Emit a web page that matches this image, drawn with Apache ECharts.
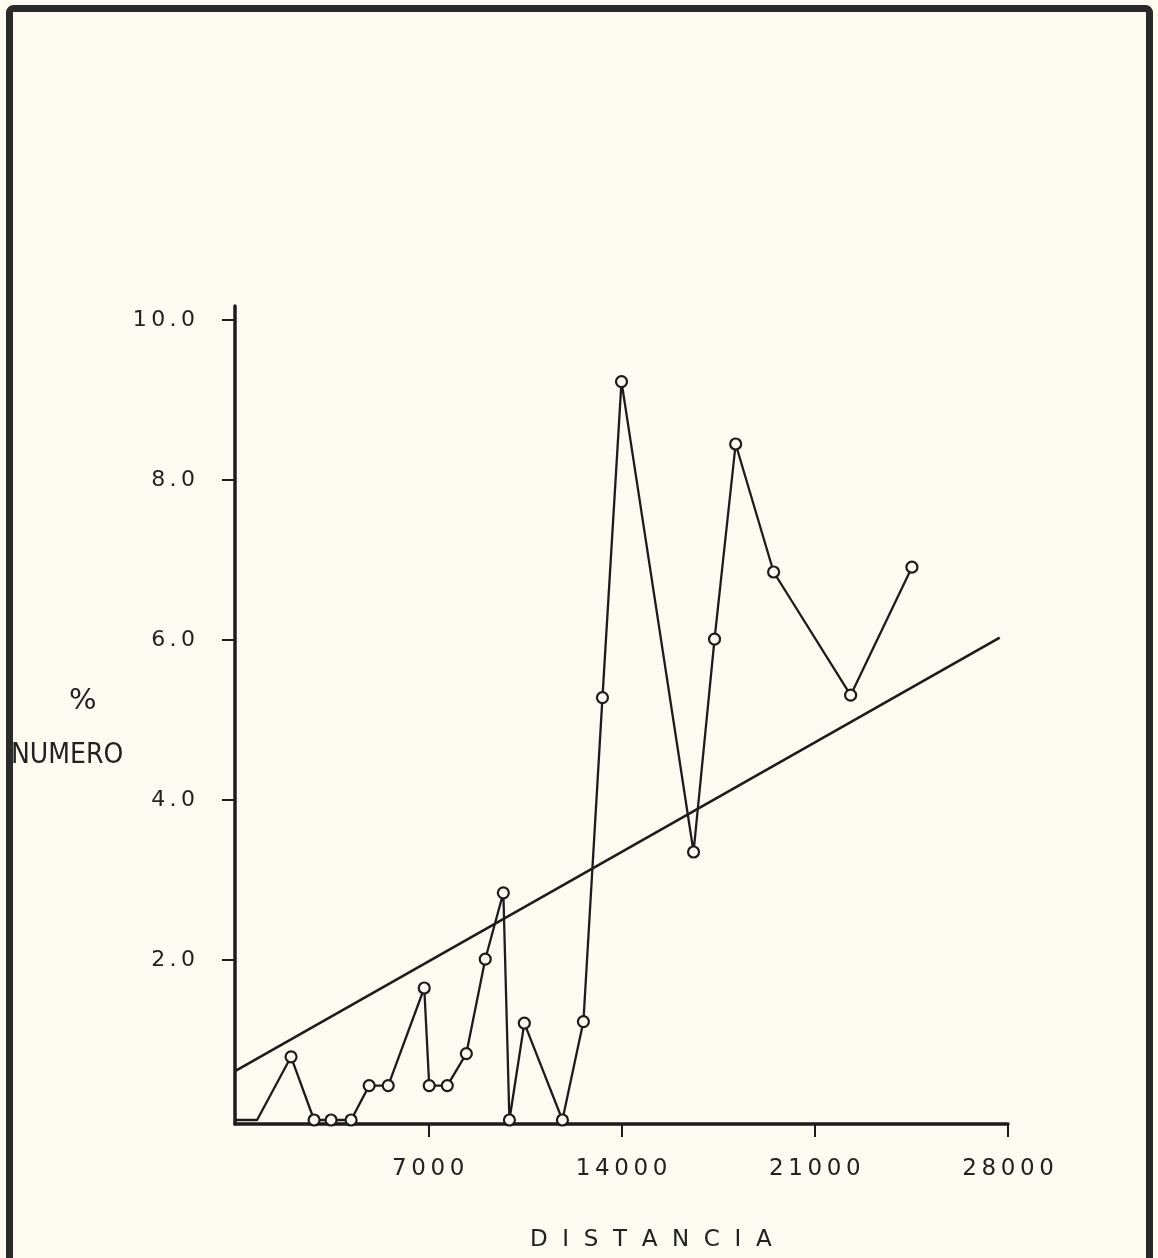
<!DOCTYPE html>
<html>
<head>
<meta charset="utf-8">
<script src="https://cdn.jsdelivr.net/npm/echarts@6/dist/echarts.min.js"></script>
<style>
html,body{margin:0;padding:0;background:#fcfaf1;}
#c{width:1158px;height:1258px;}
</style>
</head>
<body>
<div id="c"></div>
<script>
// Observed series (DISTANCIA vs % NUMERO)
var distancia = [0, 800, 2030, 2865, 3480, 4205, 4860, 5550, 6855, 7035, 7690, 8380, 9065, 9720, 9940, 10480, 11860, 12620, 13310, 14000, 16610, 17370, 18135, 19510, 22300, 24520];
var numero    = [0, 0, 0.79, 0, 0, 0, 0.43, 0.43, 1.65, 0.43, 0.43, 0.83, 2.01, 2.84, 0, 1.21, 0, 1.23, 5.28, 9.23, 3.35, 6.01, 8.45, 6.85, 5.31, 6.91];
var marked    = [false, false, true, true, true, true, true, true, true, true, true, true, true, true, true, true, true, true, true, true, true, true, true, true, true, true];
// Fitted straight line (end points)
var ajusteX = [0, 27700];
var ajusteY = [0.61, 6.03];
// Tick labels
var xTicks = [7000, 14000, 21000, 28000];
var yTicks = [2, 4, 6, 8, 10];

var ink = '#1c1c1c';
var lineData = distancia.map(function (d, i) {
  var item = { value: [d, numero[i]] };
  if (!marked[i]) item.symbol = 'none';
  return item;
});
var fitData = ajusteX.map(function (d, i) { return [d, ajusteY[i]]; });

var chart = echarts.init(document.getElementById('c'));
chart.setOption({
  backgroundColor: '#fcfaf1',
  animation: false,
  grid: { left: 235, top: 306, right: 150, bottom: 134 },
  xAxis: {
    type: 'value', min: 0, max: 28000,
    axisLine: { show: true, onZero: false, lineStyle: { color: ink, width: 3.5 } },
    axisTick: { show: true, customValues: xTicks, length: 13, lineStyle: { color: ink, width: 2 } },
    axisLabel: { customValues: xTicks, margin: 34, color: '#222', fontFamily: 'DejaVu Sans', fontSize: 23,
      formatter: function (v) { return String(v).split('').join('\u2009'); } },
    splitLine: { show: false }
  },
  yAxis: {
    type: 'value', min: -0.05, max: 10.175,
    axisLine: { show: true, onZero: false, lineStyle: { color: ink, width: 3.5 } },
    axisTick: { show: true, customValues: yTicks, length: 13, lineStyle: { color: ink, width: 2 } },
    axisLabel: { customValues: yTicks, margin: 40, color: '#222', fontFamily: 'DejaVu Sans', fontSize: 22,
      formatter: function (v) { return v.toFixed(1).split('').join('\u2009'); } },
    splitLine: { show: false }
  },
  series: [
    {
      type: 'line', data: fitData, symbol: 'none', z: 2,
      lineStyle: { color: ink, width: 2.6 }
    },
    {
      type: 'line', data: lineData, symbol: 'circle', symbolSize: 11, showAllSymbol: true, z: 3,
      lineStyle: { color: ink, width: 2.3 },
      itemStyle: { color: '#fcfaf1', borderColor: ink, borderWidth: 2.2 }
    }
  ],
  graphic: [
    { type: 'rect', shape: { x: 9.5, y: 8.5, width: 1140, height: 1300, r: 4 },
      style: { fill: 'none', stroke: '#2a2a2a', lineWidth: 7 }, z: 10 },
    { type: 'text', left: 69, top: 687, style: { text: '%', font: '29px "DejaVu Sans"', fill: '#222' } },
    { type: 'text', left: 11, top: 742, style: { text: 'NUMERO', font: '28px "DejaVu Sans Condensed"', fill: '#222' } },
    { type: 'text', left: 530, top: 1229, style: { text: 'D  I  S  T  A  N  C  I  A', font: '23px "DejaVu Sans"', fill: '#222' } }
  ]
});
</script>
</body>
</html>
